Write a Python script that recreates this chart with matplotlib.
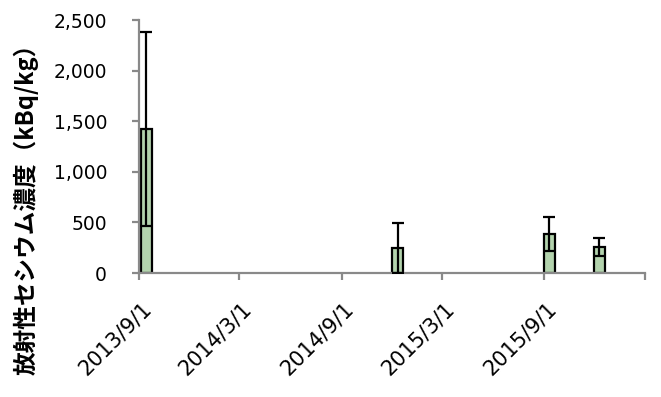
import datetime as dt
import matplotlib
matplotlib.use("Agg")
import matplotlib.pyplot as plt
import matplotlib.transforms as mtransforms

# %% Data
dates = [dt.date(2013, 9, 14), dt.date(2014, 12, 11),
         dt.date(2015, 9, 10), dt.date(2015, 12, 9)]
values = [1420, 250, 385, 260]
errors = [960, 245, 165, 90]
tick_dates = [dt.date(2013, 9, 1), dt.date(2014, 3, 1), dt.date(2014, 9, 1),
              dt.date(2015, 3, 1), dt.date(2015, 9, 1), dt.date(2016, 3, 1)]
tick_labels = ['2013/9/1', '2014/3/1', '2014/9/1', '2015/3/1', '2015/9/1', '']
yticks = [0, 500, 1000, 1500, 2000, 2500]
ylabel = '放射性セシウム濃度（kBq/kg）'

# %% Plot
fig = plt.figure(figsize=(6.61, 3.97), dpi=100)
ax = fig.add_axes([0.2103, 0.3123, 0.7657, 0.6373])

ax.bar(dates, values, width=20, color='#b3d3ad', edgecolor='black',
       linewidth=1.6, zorder=2)
ax.errorbar(dates, values, yerr=errors, fmt='none', ecolor='black',
            elinewidth=1.6, capsize=4, capthick=1.6, zorder=3)

ax.set_xlim(tick_dates[0], tick_dates[-1])
ax.set_ylim(0, 2500)
ax.set_yticks(yticks)
ax.set_yticklabels([f'{v:,}' for v in yticks])
ax.set_xticks(tick_dates)
ax.set_xticklabels(tick_labels, rotation=45, ha='right', va='top',
                   rotation_mode='anchor', fontsize=15)

for s in ['top', 'right']:
    ax.spines[s].set_visible(False)
for s in ['left', 'bottom']:
    ax.spines[s].set_color('#898989')
    ax.spines[s].set_linewidth(1.6)
ax.tick_params(axis='both', color='#898989', width=1.6, length=5)
ax.tick_params(axis='y', pad=18, labelsize=13.5)
ax.tick_params(axis='x', pad=13)

# nudge the date labels a little to the right, like the original
offset = mtransforms.ScaledTranslation(0.02, 0, fig.dpi_scale_trans)
for lab in ax.get_xticklabels():
    lab.set_transform(lab.get_transform() + offset)
for lab in ax.get_xticklabels() + ax.get_yticklabels():
    lab.set_family('DejaVu Sans')

ax.set_ylabel(ylabel, family=['Noto Sans CJK JP', 'DejaVu Sans'],
              fontsize=17, fontweight='bold')
ax.yaxis.set_label_coords(-0.198, 0.275)

fig.savefig('out.png', dpi=100)
